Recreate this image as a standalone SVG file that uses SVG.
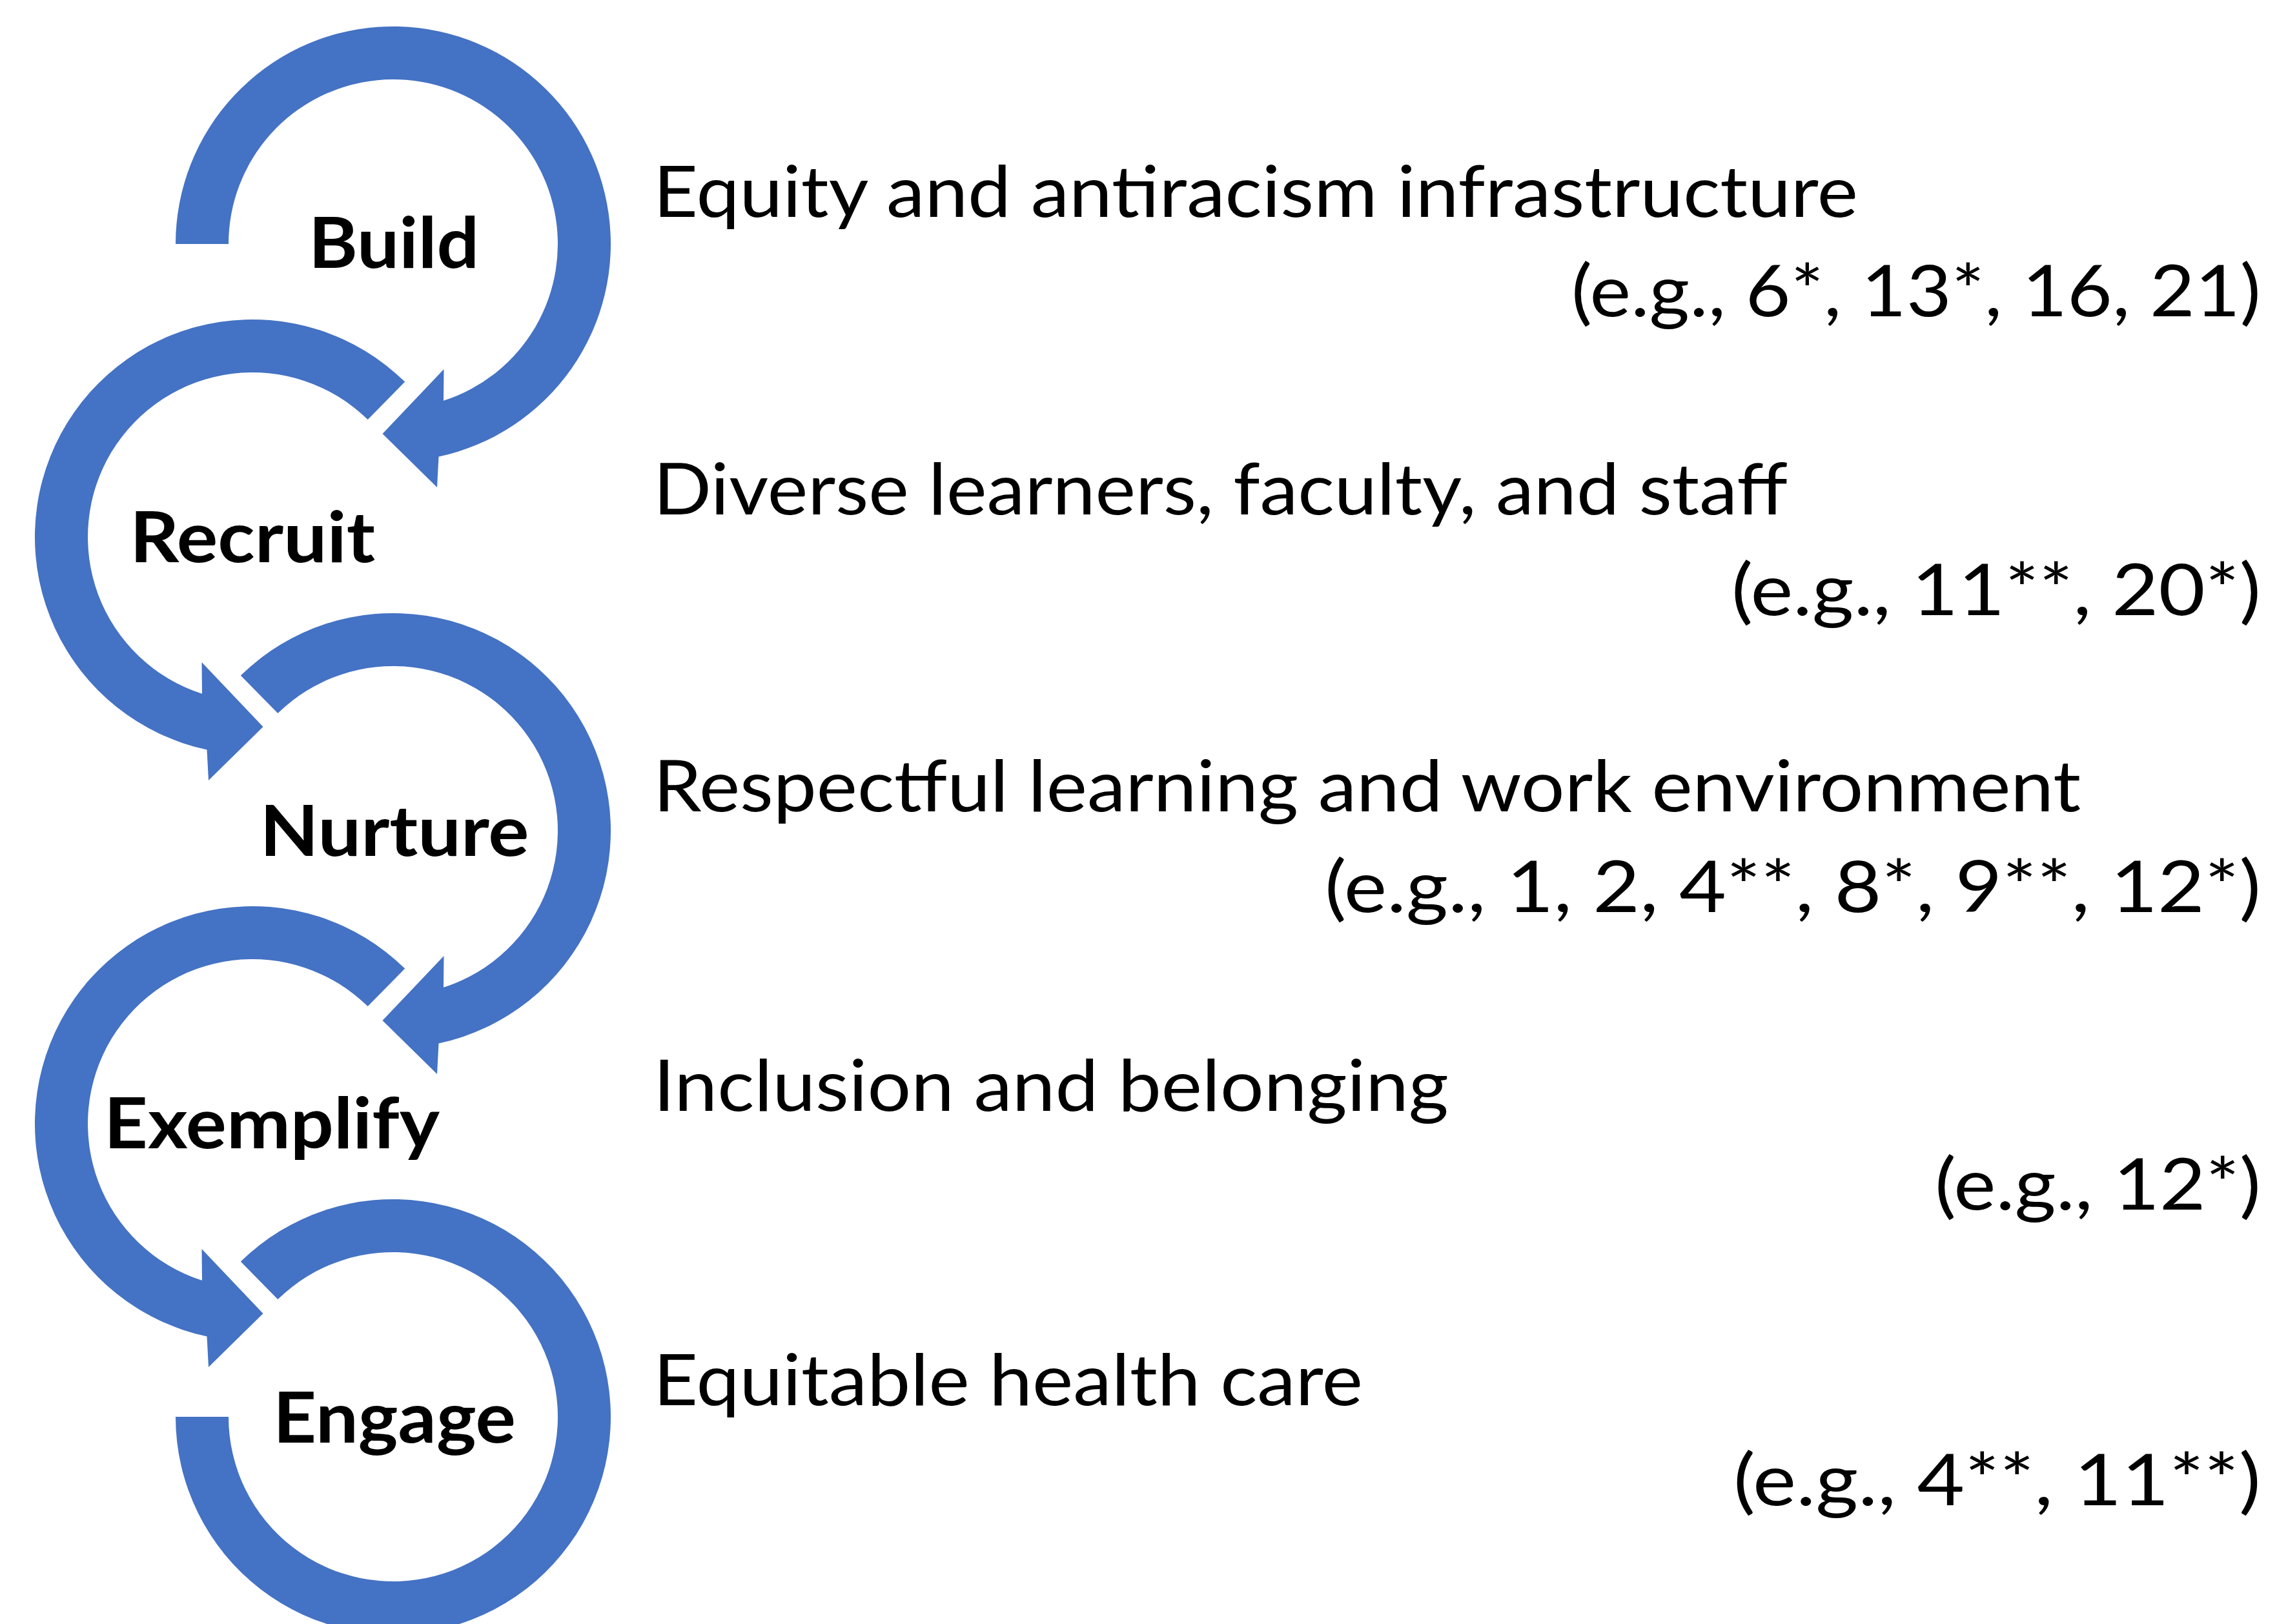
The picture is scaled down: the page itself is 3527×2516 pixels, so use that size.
<svg xmlns="http://www.w3.org/2000/svg" xmlns:xlink="http://www.w3.org/1999/xlink" width="3527" height="2516" viewBox="0 0 3527 2516">
  <style>
    .ring { fill: #4472C4; }
    .stage { font-family: Lato, "Open Sans", "Liberation Sans", sans-serif; font-weight: 700; font-size: 110px; fill: #000; text-anchor: middle; }
    .desc { font-family: Lato, "Open Sans", "Liberation Sans", sans-serif; font-weight: 400; font-size: 110px; fill: #000; }
    .refs { font-family: Lato, "Open Sans", "Liberation Sans", sans-serif; font-weight: 400; font-size: 110px; fill: #000; text-anchor: end; }
  </style>
  <defs>
    <!-- circular arrow starting at the left (180deg), running clockwise to a head at the bottom -->
    <path id="arrowA" class="ring" d="M -337 0 A 337 337 0 1 1 70.5 329.5 L 68 377 L -16.5 294 L 78.5 194 L 78 242.8 A 255 255 0 1 0 -255 0 Z"/>
    <!-- circular arrow starting at the upper left, running clockwise to a head at the bottom -->
    <path id="arrowB" class="ring" d="M -236.2 -240.4 A 337 337 0 1 1 70.5 329.5 L 68 377 L -16.5 294 L 78.5 194 L 78 242.8 A 255 255 0 1 0 -178.7 -181.9 Z"/>
    <!-- open ring without a head -->
    <path id="ringOpen" class="ring" d="M -236.2 -240.4 A 337 337 0 1 1 -337 0 L -255 0 A 255 255 0 1 0 -178.7 -181.9 Z"/>
  </defs>

  <rect width="3527" height="2516" fill="#ffffff"/>

  <g id="build">
    <use xlink:href="#arrowA" transform="translate(609,378)"/>
    <text class="stage" x="610" y="415" textLength="264" lengthAdjust="spacingAndGlyphs">Build</text>
    <text class="desc" x="1012" y="336" textLength="1866" lengthAdjust="spacingAndGlyphs">Equity and antiracism infrastructure</text>
    <text class="refs" x="3502" y="490" textLength="1068" lengthAdjust="spacingAndGlyphs">(e.g., 6*, 13*, 16, 21)</text>
  </g>

  <g id="recruit">
    <use xlink:href="#arrowB" transform="translate(391,832) scale(-1,1)"/>
    <text class="stage" x="391" y="871" textLength="380" lengthAdjust="spacingAndGlyphs">Recruit</text>
    <text class="desc" x="1012" y="797" textLength="1757" lengthAdjust="spacingAndGlyphs">Diverse learners, faculty, and staff</text>
    <text class="refs" x="3502" y="953" textLength="820" lengthAdjust="spacingAndGlyphs">(e.g., 11**, 20*)</text>
  </g>

  <g id="nurture">
    <use xlink:href="#arrowB" transform="translate(609,1287)"/>
    <text class="stage" x="611" y="1326" textLength="417" lengthAdjust="spacingAndGlyphs">Nurture</text>
    <text class="desc" x="1012" y="1257" textLength="2211" lengthAdjust="spacingAndGlyphs">Respectful learning and work environment</text>
    <text class="refs" x="3502" y="1413" textLength="1450" lengthAdjust="spacingAndGlyphs">(e.g., 1, 2, 4**, 8*, 9**, 12*)</text>
  </g>

  <g id="exemplify">
    <use xlink:href="#arrowB" transform="translate(391,1741) scale(-1,1)"/>
    <text class="stage" x="421" y="1779" textLength="520" lengthAdjust="spacingAndGlyphs">Exemplify</text>
    <text class="desc" x="1012" y="1721" textLength="1232" lengthAdjust="spacingAndGlyphs">Inclusion and belonging</text>
    <text class="refs" x="3502" y="1874" textLength="505" lengthAdjust="spacingAndGlyphs">(e.g., 12*)</text>
  </g>

  <g id="engage">
    <use xlink:href="#ringOpen" transform="translate(609,2195)"/>
    <text class="stage" x="611" y="2235" textLength="376" lengthAdjust="spacingAndGlyphs">Engage</text>
    <text class="desc" x="1012" y="2177" textLength="1099" lengthAdjust="spacingAndGlyphs">Equitable health care</text>
    <text class="refs" x="3502" y="2332" textLength="817" lengthAdjust="spacingAndGlyphs">(e.g., 4**, 11**)</text>
  </g>

  <g id="connectors"/>
</svg>
